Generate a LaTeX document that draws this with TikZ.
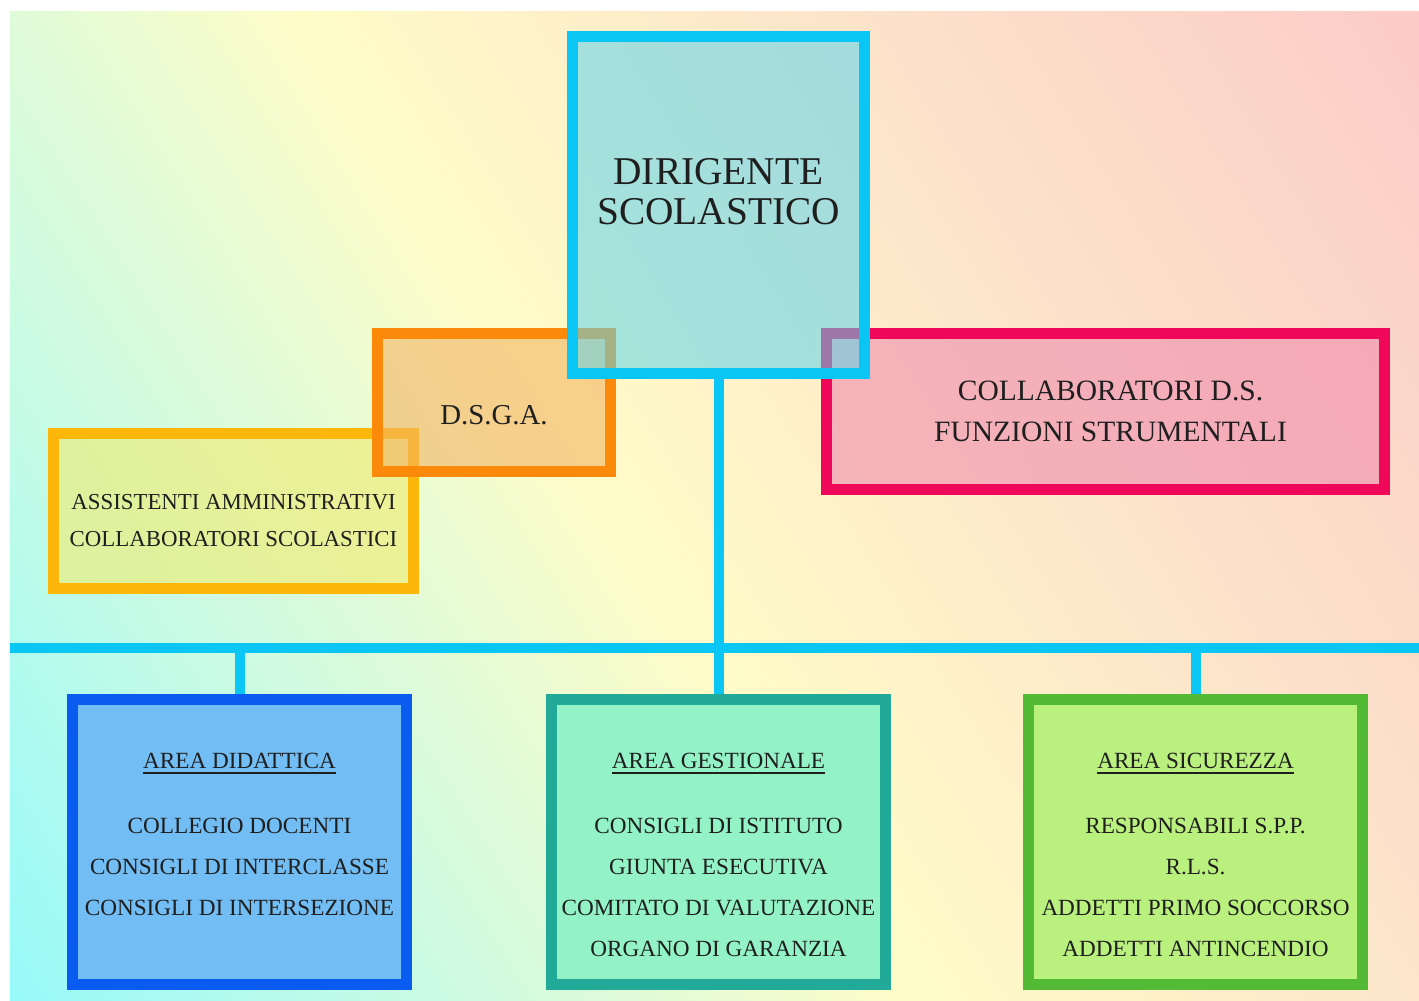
\documentclass[tikz,border=0pt]{standalone}
\usepackage{fontspec}
\setmainfont{Liberation Serif}
\usepackage{tikz}
\usetikzlibrary{positioning}

\definecolor{bgcyan}{RGB}{150,250,250}
\definecolor{bgmint}{RGB}{205,251,226}
\definecolor{bgyellow}{RGB}{255,252,200}
\definecolor{bgpeach}{RGB}{252,228,202}
\definecolor{bgpink}{RGB}{252,203,200}
\definecolor{linecyan}{HTML}{0AC6F4}
\definecolor{dirfill}{RGB}{93,212,236}
\definecolor{dsgaline}{HTML}{FB8A0A}
\definecolor{dsgafill}{RGB}{242,180,98}
\definecolor{assistline}{HTML}{FCB70A}
\definecolor{assistfill}{HTML}{F0EB6E}
\definecolor{collabline}{HTML}{EF0759}
\definecolor{collabfill}{HTML}{F08CAF}
\definecolor{didline}{HTML}{0A5BF0}
\definecolor{didfill}{HTML}{72BDF3}
\definecolor{gestline}{HTML}{22AA98}
\definecolor{gestfill}{HTML}{94F3C6}
\definecolor{sicline}{HTML}{52BA34}
\definecolor{sicfill}{HTML}{BAF07E}

\pgfdeclarehorizontalshading{bgshade}{100bp}{color(0bp)=(bgcyan); color(21bp)=(bgcyan); color(34bp)=(bgmint); color(47bp)=(bgyellow); color(62bp)=(bgpeach); color(79bp)=(bgpink); color(100bp)=(bgpink)}

\newcommand{\areahead}[1]{\leavevmode\vtop{\hbox{#1}\kern1.5pt\hrule height 1.1pt}}

\begin{document}
\begin{tikzpicture}[
  orgbox/.style={draw, line width=0.22cm, inner sep=0pt},
  orglink/.style={draw=linecyan, line width=0.2cm},
  boxlabel/.style={align=center, inner sep=0pt, text=black!88},
  arealabel/.style={boxlabel, font=\fontsize{13.2}{23.3}\selectfont}
]

\useasboundingbox (0,0) rectangle (28.38,20);
\begin{scope}
\clip (0.2,0) rectangle (28.38,19.76);
\shade[shading=bgshade, shading angle=32] (-0.71,-5.12) rectangle (29.29,24.88);
\end{scope}

\node(assist)[orgbox, draw=assistline, fill=assistfill, fill opacity=0.6, minimum width=7.2cm, minimum height=3.1cm] at (4.67,9.78) {};
\node(assisttext)[boxlabel, font=\fontsize{13}{21}\selectfont] at ([yshift=-0.2cm]assist.center) {ASSISTENTI AMMINISTRATIVI\\COLLABORATORI SCOLASTICI};

\node(dsga)[orgbox, draw=dsgaline, fill=dsgafill, fill opacity=0.6, minimum width=4.66cm, minimum height=2.76cm] at (9.88,11.95) {};
\node(dsgatext)[boxlabel, font=\fontsize{16.4}{20}\selectfont] at ([yshift=-0.25cm]dsga.center) {D.S.G.A.};

\node(collab)[orgbox, draw=collabline, fill=collabfill, fill opacity=0.6, minimum width=11.16cm, minimum height=3.12cm] at (22.11,11.77) {};
\node(collabtext)[boxlabel, font=\fontsize{16.8}{23.3}\selectfont] at ([xshift=0.1cm]collab.center) {COLLABORATORI D.S.\\FUNZIONI STRUMENTALI};

\node(dir)[orgbox, draw=linecyan, fill=dirfill, fill opacity=0.55, minimum width=5.84cm, minimum height=6.74cm] at (14.37,15.9) {};
\node(dirtext)[boxlabel, font=\fontsize{22.4}{22.8}\selectfont] at ([yshift=0.27cm]dir.center) {DIRIGENTE\\SCOLASTICO};

\node(did)[orgbox, draw=didline, fill=didfill, minimum width=6.68cm, minimum height=5.7cm] at (4.79,3.16) {};
\node(gest)[orgbox, draw=gestline, fill=gestfill, minimum width=6.68cm, minimum height=5.7cm] at (14.37,3.16) {};
\node(sic)[orgbox, draw=sicline, fill=sicfill, minimum width=6.68cm, minimum height=5.7cm] at (23.91,3.16) {};

\node(didtext)[arealabel, below=1.18cm of did.north] {\areahead{AREA DIDATTICA}\\[13.7pt]COLLEGIO DOCENTI\\CONSIGLI DI INTERCLASSE\\CONSIGLI DI INTERSEZIONE};
\node(gesttext)[arealabel, below=1.18cm of gest.north] {\areahead{AREA GESTIONALE}\\[13.7pt]CONSIGLI DI ISTITUTO\\GIUNTA ESECUTIVA\\COMITATO DI VALUTAZIONE\\ORGANO DI GARANZIA};
\node(sictext)[arealabel, below=1.18cm of sic.north] {\areahead{AREA SICUREZZA}\\[13.7pt]RESPONSABILI S.P.P.\\R.L.S.\\ADDETTI PRIMO SOCCORSO\\ADDETTI ANTINCENDIO};

\coordinate(barL) at (0.2,7.04);
\coordinate(barR) at (28.38,7.04);
\draw[orglink] (barL) -- (barR);
\draw[orglink] (dir.south) -- (dir.south |- barL);
\draw[orglink] (did.north) -- (did.north |- barL);
\draw[orglink] (gest.north) -- (gest.north |- barL);
\draw[orglink] (sic.north) -- (sic.north |- barL);

\end{tikzpicture}
\end{document}
